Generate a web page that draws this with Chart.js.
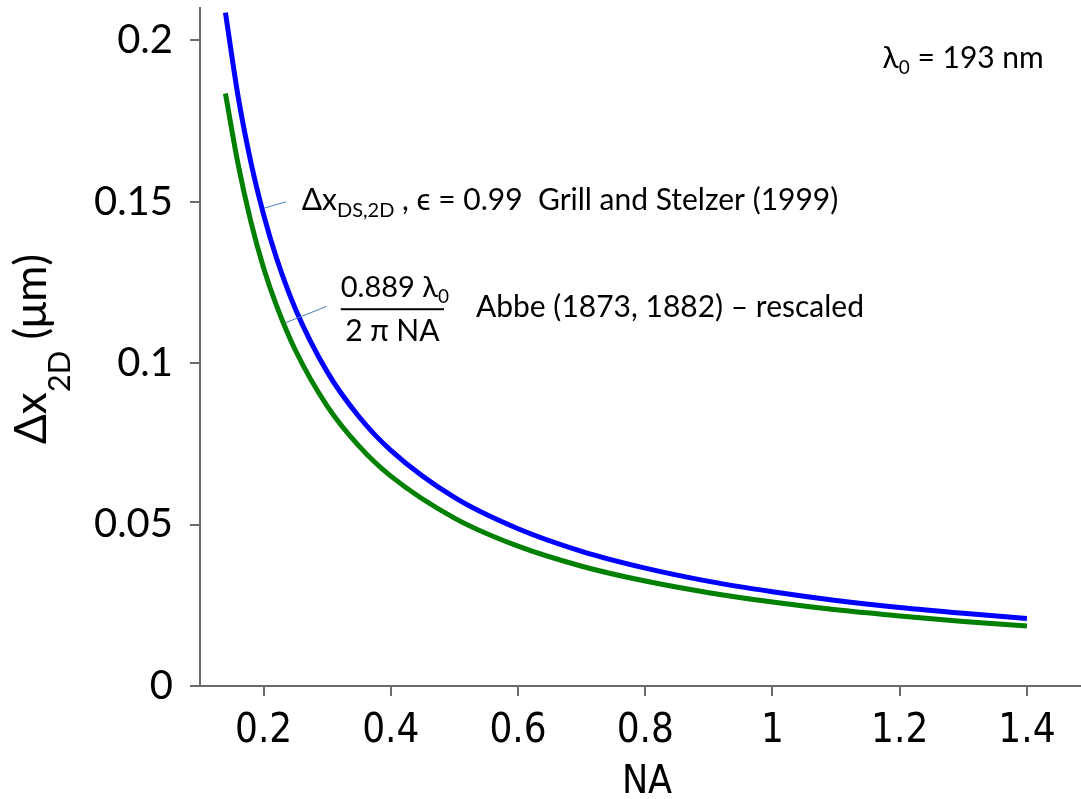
<!DOCTYPE html>
<html>
<head>
<meta charset="utf-8">
<script src="https://cdn.jsdelivr.net/npm/chart.js@4"></script>
<style>
  body { margin: 0; background: #fff; }
  #wrap { width: 1081px; height: 799px; }
</style>
</head>
<body>
<div id="wrap"><canvas id="myChart"></canvas></div>
<script>
// values
const naValues     = [0.14, 0.16, 0.18, 0.2, 0.22, 0.25, 0.3, 0.35, 0.4, 0.5, 0.6, 0.7, 0.8, 0.9, 1.0, 1.1, 1.2, 1.3, 1.4];
const grillStelzer = [0.2086, 0.1825, 0.1622, 0.146, 0.1327, 0.1168, 0.0973, 0.0834, 0.073, 0.0584, 0.0487, 0.0417, 0.0365, 0.0324, 0.0292, 0.0265, 0.0243, 0.0225, 0.0209];
const abbeRescaled = [0.1835, 0.1615, 0.1438, 0.1295, 0.118, 0.104, 0.0867, 0.0743, 0.065, 0.052, 0.0433, 0.0371, 0.0325, 0.0289, 0.026, 0.0236, 0.0217, 0.020, 0.0186];
const xTickValues  = [0.2, 0.4, 0.6, 0.8, 1, 1.2, 1.4];
const yTickValues  = [0, 0.05, 0.1, 0.15, 0.2];

const toPoints = ys => naValues.map((x, i) => ({ x: x, y: ys[i] }));

const axisGrey = '#6b6b6b';
const labelFont = '"Lato", "Open Sans", sans-serif';
const narrowFont = '"DejaVu Sans Condensed", "Liberation Sans Narrow", sans-serif';

// texts with subscripts, fraction and leader lines
const annotations = {
  id: 'annotations',
  afterDraw(chart) {
    const c = chart.ctx;
    const xs = chart.scales.x, ys = chart.scales.y;
    const px = v => xs.getPixelForValue(v);
    const py = v => ys.getPixelForValue(v);
    c.save();
    c.fillStyle = '#000';
    c.textBaseline = 'alphabetic';
    c.textAlign = 'left';

    // draws runs of [text, size, dy]
    function runs(x, y, parts) {
      parts.forEach(p => {
        c.font = p[1] + 'px ' + labelFont;
        c.fillText(p[0], x, y + (p[2] || 0));
        x += c.measureText(p[0]).width;
      });
      return x;
    }

    // leader lines
    c.strokeStyle = '#4a7ebb';
    c.lineWidth = 1;
    c.beginPath();
    c.moveTo(px(0.201), py(0.148)); c.lineTo(px(0.2355), py(0.150));
    c.moveTo(px(0.2331), py(0.1124)); c.lineTo(px(0.2992), py(0.1176));
    c.stroke();

    // Grill and Stelzer label
    runs(px(0.2598), py(0.1474), [
      ['\u0394x', 30], ['DS,2D', 20, 7], [' , \u03f5 = 0.99  Grill and Stelzer (1999)', 30]
    ]);

    // Abbe fraction
    const fx0 = px(0.3213), fx1 = px(0.4835);
    runs(fx0, py(0.1204), [['0.889 \u03bb', 29], ['0', 19, 6]]);
    c.fillRect(fx0, py(0.1167) - 1, fx1 - fx0, 2);
    c.font = '30px ' + labelFont;
    c.textAlign = 'center';
    c.fillText('2 \u03c0 NA', (fx0 + fx1) / 2, py(0.1068));
    c.textAlign = 'left';
    runs(px(0.5339), py(0.1142), [['Abbe (1873, 1882) \u2013 rescaled', 30]]);

    // wavelength
    runs(px(1.173), py(0.1913), [['\u03bb', 30], ['0', 19, 6], [' = 193 nm', 30]]);

    // x axis title
    c.font = '39px ' + narrowFont;
    c.textAlign = 'center';
    c.fillText('NA', 647, 793);

    // y axis title, rotated
    c.translate(46, 349);
    c.rotate(-Math.PI / 2);
    const parts = [['\u0394x', 44], ['2D', 31, 24], [' (\u03bcm)', 44]];
    let w = 0;
    parts.forEach(p => { c.font = p[1] + 'px ' + labelFont; w += c.measureText(p[0]).width; });
    c.textAlign = 'left';
    runs(-w / 2, 0, parts);
    c.restore();
  }
};

const ctx = document.getElementById('myChart').getContext('2d');
const myChart = new Chart(ctx, {
  type: 'scatter',
  data: {
    datasets: [
      {
        label: 'Grill and Stelzer (1999)',
        data: toPoints(grillStelzer),
        showLine: true,
        borderColor: 'rgb(0, 0, 255)',
        borderWidth: 5,
        pointRadius: 0,
        cubicInterpolationMode: 'monotone'
      },
      {
        label: 'Abbe (1873, 1882) - rescaled',
        data: toPoints(abbeRescaled),
        showLine: true,
        borderColor: 'rgb(0, 128, 0)',
        borderWidth: 5,
        pointRadius: 0,
        cubicInterpolationMode: 'monotone'
      }
    ]
  },
  options: {
    responsive: true,
    maintainAspectRatio: false,
    animation: false,
    layout: { padding: { top: 8, right: 0, left: 0, bottom: 0 } },
    plugins: { legend: { display: false }, tooltip: { enabled: false } },
    scales: {
      x: {
        type: 'linear',
        min: 0.1,
        max: 1.485,
        afterFit: s => { s.height = 113; s.paddingLeft = 0; s.paddingRight = 0; },
        afterBuildTicks: s => { s.ticks = xTickValues.map(v => ({ value: v })); },
        border: { color: axisGrey, width: 2 },
        grid: { drawOnChartArea: false, color: axisGrey, lineWidth: 2, tickLength: 10 },
        ticks: {
          color: '#000',
          padding: 12,
          maxRotation: 0,
          font: { family: narrowFont, size: 40 },
          callback: v => String(v)
        }
      },
      y: {
        min: 0,
        max: 0.21,
        afterFit: s => { s.width = 200; s.paddingTop = 0; s.paddingBottom = 0; },
        afterBuildTicks: s => { s.ticks = yTickValues.map(v => ({ value: v })); },
        border: { color: axisGrey, width: 2 },
        grid: { drawOnChartArea: false, color: axisGrey, lineWidth: 2, tickLength: 10 },
        ticks: {
          color: '#000',
          padding: 17,
          font: { family: labelFont, size: 40 },
          callback: v => String(v)
        }
      }
    }
  },
  plugins: [annotations]
});
</script>
</body>
</html>
